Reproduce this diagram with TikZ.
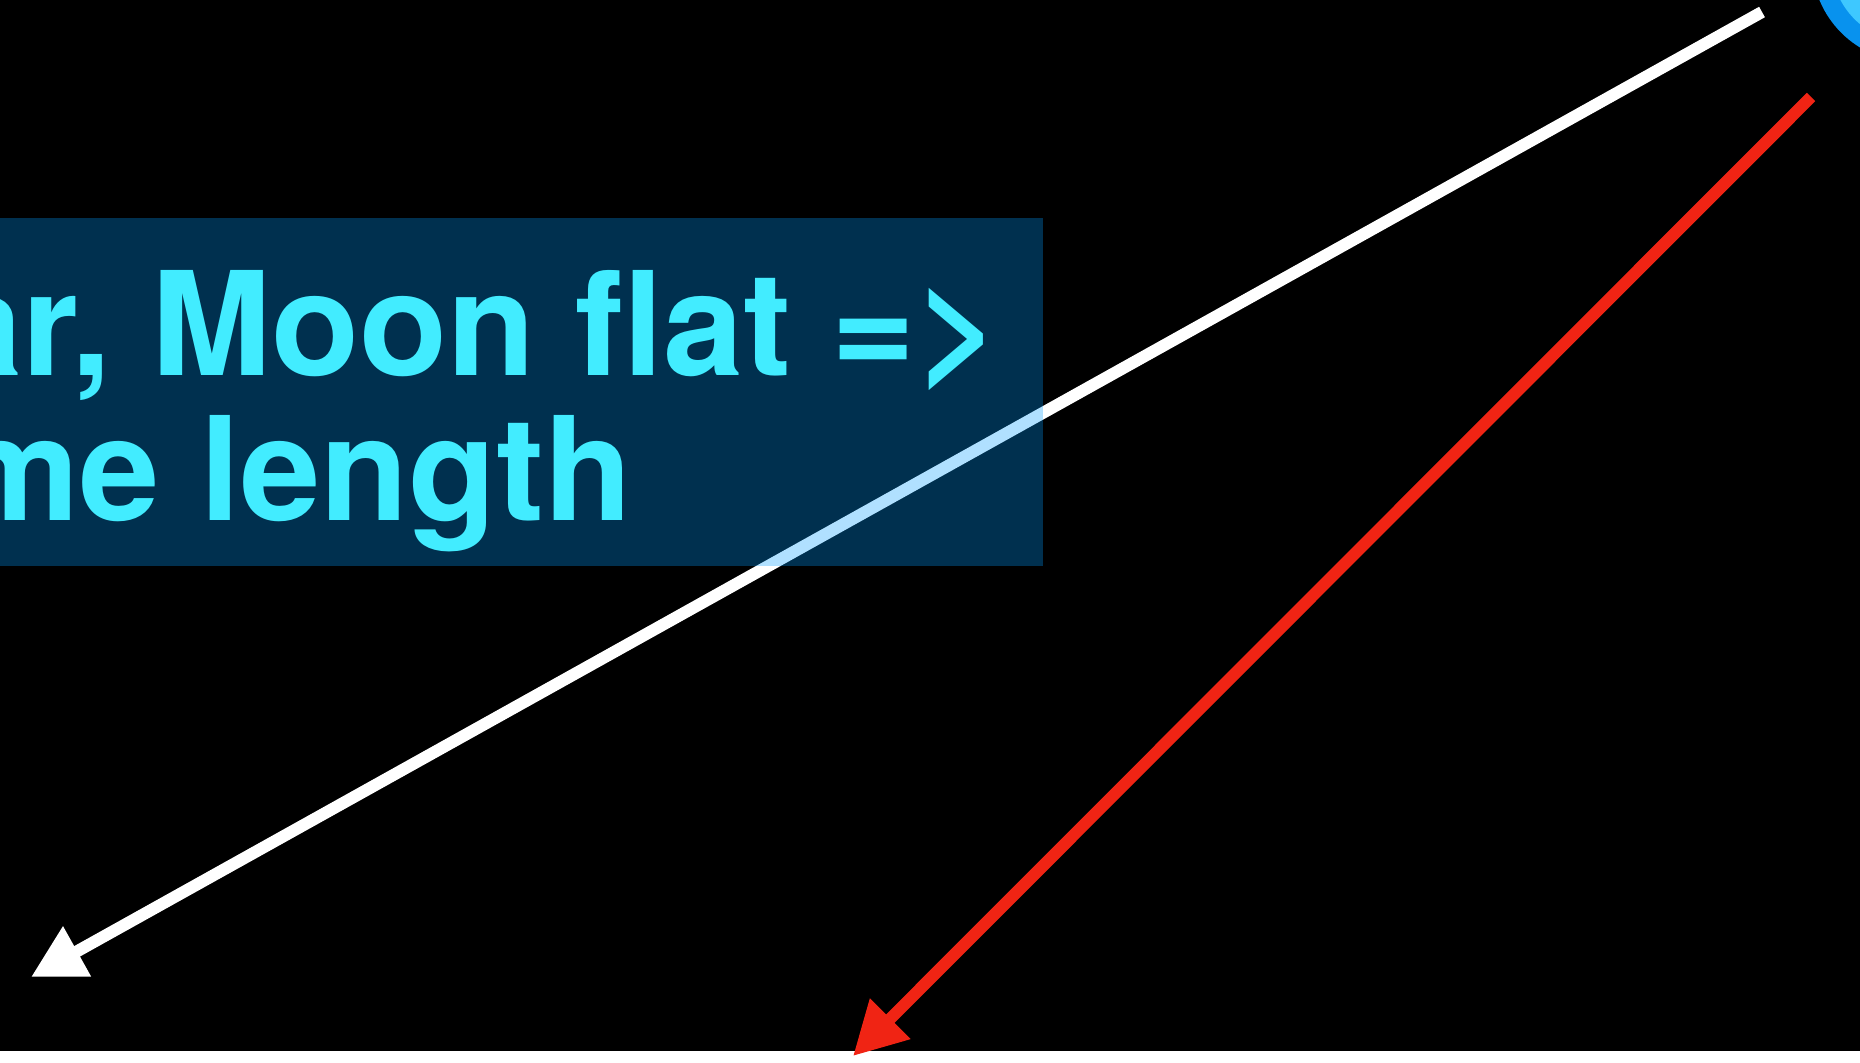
\documentclass[tikz,border=0pt]{standalone}
\usepackage{fontspec}
\setmainfont{TeX Gyre Heros}
\usetikzlibrary{arrows.meta}
\definecolor{slidecyan}{RGB}{66,236,255}
\definecolor{boxblue}{RGB}{0,155,255}
\definecolor{arrowred}{RGB}{240,36,20}
\definecolor{earthblue}{RGB}{8,146,238}
\definecolor{earthlight}{RGB}{62,200,255}
\tikzset{
  pointer/.style={line width=3.4pt, -{Triangle[length=15pt, width=15.4pt]}},
  notebox/.style={fill=boxblue, fill opacity=0.31},
  notetext/.style={text=slidecyan, font=\fontsize{41}{42}\selectfont\bfseries, inner sep=0pt}
}
\begin{document}
\begin{tikzpicture}[x=0.01cm, y=0.01cm]
  % Frame
  \clip (0,0) rectangle (1860,1062);
  \fill[black] (0,0) rectangle (1860,1062);
  \fill[white] (0,0) rectangle (1860,11);
  % Planet edge, top right
  \fill[earthblue] (1912,1100) circle[radius=1cm];
  \fill[earthlight] (1912,1100) circle[radius=0.81cm];
  % Arrow ends
  \coordinate (whiteTail) at (1762,1050);
  \coordinate (whiteTip) at (31,85);
  \coordinate (redTail) at (1811,965);
  \coordinate (redTip) at (853,6);
  % Arrows
  \draw[pointer, white] (whiteTail) -- (whiteTip);
  \draw[pointer, arrowred] (redTail) -- (redTip);
  % Note
  \fill[notebox] (0,496) rectangle (1043,844);
  \node[notetext, anchor=base east] (noteTop) at (1001,687) {ar, Moon flat =>};
  \node[notetext, anchor=base west] (noteBottom) at (-49,542) {me length};
\end{tikzpicture}
\end{document}
